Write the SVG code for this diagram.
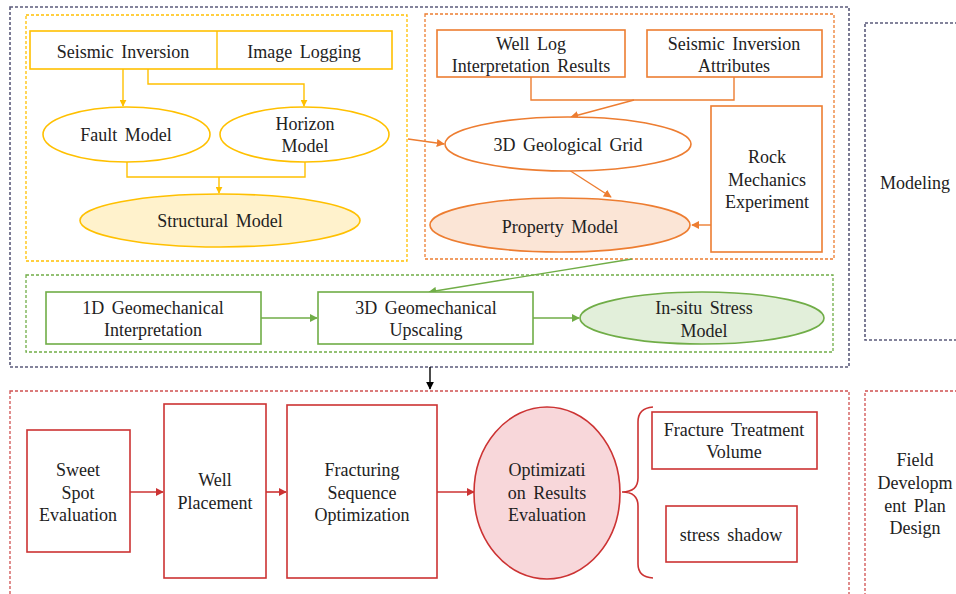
<svg xmlns="http://www.w3.org/2000/svg" width="956" height="594" viewBox="0 0 956 594">
<style>
text{font-family:'Liberation Serif','DejaVu Serif',serif;font-size:18px;fill:#222;text-anchor:middle;word-spacing:3px}
.gray{fill:none;stroke:#5b5b7b;stroke-width:1.6;stroke-dasharray:3 2}
.ydash{fill:none;stroke:#ffc000;stroke-width:1.3;stroke-dasharray:3 2}
.odash{fill:none;stroke:#ed7d31;stroke-width:1.3;stroke-dasharray:3 2}
.gdash{fill:none;stroke:#70ad47;stroke-width:1.3;stroke-dasharray:3 2}
.rdash{fill:none;stroke:#d05050;stroke-width:1.3;stroke-dasharray:3 2}
.y{fill:#fff;stroke:#ffc000;stroke-width:1.6}
.o{fill:#fff;stroke:#ed7d31;stroke-width:1.6}
.g{fill:#fff;stroke:#70ad47;stroke-width:1.6}
.r{fill:#fff;stroke:#cc3333;stroke-width:1.6}
.yl{fill:none;stroke:#ffc000;stroke-width:1.4}
.ol{fill:none;stroke:#ed7d31;stroke-width:1.4}
.gl{fill:none;stroke:#70ad47;stroke-width:1.4}
.rl{fill:none;stroke:#cc3333;stroke-width:1.6}
.kl{fill:none;stroke:#000;stroke-width:1.4}
</style>
<defs>
<marker id="ay" viewBox="0 0 10 10" refX="9" refY="5" markerWidth="7" markerHeight="7" orient="auto" markerUnits="userSpaceOnUse"><path d="M0,0L10,5L0,10z" fill="#ffc000"/></marker>
<marker id="ao" viewBox="0 0 10 10" refX="9" refY="5" markerWidth="8" markerHeight="8" orient="auto" markerUnits="userSpaceOnUse"><path d="M0,0L10,5L0,10z" fill="#ed7d31"/></marker>
<marker id="ag" viewBox="0 0 10 10" refX="9" refY="5" markerWidth="8" markerHeight="8" orient="auto" markerUnits="userSpaceOnUse"><path d="M0,0L10,5L0,10z" fill="#70ad47"/></marker>
<marker id="ar" viewBox="0 0 10 10" refX="9" refY="5" markerWidth="8" markerHeight="8" orient="auto" markerUnits="userSpaceOnUse"><path d="M0,0L10,5L0,10z" fill="#cc3333"/></marker>
<marker id="ak" viewBox="0 0 10 10" refX="9" refY="5" markerWidth="8" markerHeight="8" orient="auto" markerUnits="userSpaceOnUse"><path d="M0,0L10,5L0,10z" fill="#000"/></marker>
</defs>
<rect width="956" height="594" fill="#fff"/>

<g id="containers">
<rect class="gray" x="10" y="7" width="839" height="360"/>
<rect class="gray" x="865" y="23" width="100" height="317"/>
<rect class="ydash" x="26" y="15" width="381" height="246"/>
<rect class="odash" x="425" y="14" width="409" height="245"/>
<rect class="gdash" x="26" y="275" width="807" height="77"/>
<rect class="rdash" x="10" y="391" width="839" height="220"/>
<rect class="rdash" x="865" y="391" width="100" height="220"/>
</g>

<g id="connectors">
<path class="yl" d="M123,69V106" marker-end="url(#ay)"/>
<path class="yl" d="M148,69V84H304V106" marker-end="url(#ay)"/>
<path class="yl" d="M127,162V177H305V162M219,177V193" marker-end="url(#ay)"/>
<path class="ol" d="M531,77V100H734V77"/>
<path class="ol" d="M634,100L571,117" marker-end="url(#ao)"/>
<path class="ol" d="M408,139L444,144" marker-end="url(#ao)"/>
<path class="ol" d="M569,170L611,197" marker-end="url(#ao)"/>
<path class="ol" d="M711,225H692" marker-end="url(#ao)"/>
<path class="gl" d="M632,259L429,292" marker-end="url(#ag)"/>
<path class="gl" d="M261,318H317" marker-end="url(#ag)"/>
<path class="gl" d="M533,318H579" marker-end="url(#ag)"/>
<path class="kl" d="M430,367V389" marker-end="url(#ak)"/>
<path class="rl" d="M130,492H163" marker-end="url(#ar)"/>
<path class="rl" d="M266,492H286" marker-end="url(#ar)"/>
<path class="rl" d="M437,492H474" marker-end="url(#ar)"/>
<path class="rl" d="M653,407Q638,408 638,422V478Q638,492 622,492Q638,492 638,506V564Q638,577 653,578"/>
</g>

<g id="seismic-image"><rect class="y" x="30" y="31" width="362" height="38"/><line class="yl" x1="217" y1="31" x2="217" y2="69"/>
<text x="123" y="58">Seismic Inversion</text><text x="304" y="58">Image Logging</text></g>
<g id="fault"><ellipse class="y" cx="126.5" cy="134.5" rx="83.5" ry="27.5"/><text x="126" y="141">Fault Model</text></g>
<g id="horizon"><ellipse class="y" cx="304.5" cy="134.5" rx="84.5" ry="27.5"/><text x="305" y="130">Horizon</text><text x="305" y="152">Model</text></g>
<g id="structural"><ellipse cx="220" cy="220.5" rx="140" ry="26.5" fill="#fff2cc" stroke="#ffc000" stroke-width="1.6"/><text x="220" y="227">Structural Model</text></g>

<g id="welllog"><rect class="o" x="437" y="30" width="188" height="47"/><text x="531" y="50">Well Log</text><text x="531" y="72">Interpretation Results</text></g>
<g id="siattr"><rect class="o" x="647" y="30" width="175" height="47"/><text x="734" y="50">Seismic Inversion</text><text x="734" y="72">Attributes</text></g>
<g id="grid"><ellipse class="o" cx="568" cy="144" rx="123" ry="27"/><text x="568" y="151">3D Geological Grid</text></g>
<g id="property"><ellipse cx="560" cy="225" rx="130" ry="27" fill="#fbe5d6" stroke="#ed7d31" stroke-width="1.6"/><text x="560" y="233">Property Model</text></g>
<g id="rock"><rect class="o" x="711" y="106" width="111" height="146"/><text x="767" y="163">Rock</text><text x="767" y="186">Mechanics</text><text x="767" y="208">Experiment</text></g>

<g id="geo1d"><rect class="g" x="46" y="292" width="215" height="52"/><text x="153" y="314">1D Geomechanical</text><text x="153" y="336">Interpretation</text></g>
<g id="geo3d"><rect class="g" x="318" y="292" width="215" height="52"/><text x="426" y="314">3D Geomechanical</text><text x="426" y="336">Upscaling</text></g>
<g id="insitu"><ellipse cx="702" cy="318" rx="122" ry="26" fill="#e2efda" stroke="#70ad47" stroke-width="1.6"/><text x="704" y="314">In-situ Stress</text><text x="704" y="337">Model</text></g>

<g id="modeling-label"><text x="915" y="189">Modeling</text></g>
<g id="field-label"><text x="915" y="466">Field</text><text x="915" y="489">Developm</text><text x="915" y="512">ent Plan</text><text x="915" y="534">Design</text></g>

<g id="sweet"><rect class="r" x="27" y="430" width="103" height="122"/><text x="78" y="476">Sweet</text><text x="78" y="499">Spot</text><text x="78" y="521">Evaluation</text></g>
<g id="well"><rect class="r" x="164" y="404" width="102" height="174"/><text x="215" y="486">Well</text><text x="215" y="509">Placement</text></g>
<g id="fracseq"><rect class="r" x="287" y="405" width="150" height="173"/><text x="362" y="476">Fracturing</text><text x="362" y="499">Sequence</text><text x="362" y="521">Optimization</text></g>
<g id="optim"><ellipse cx="547" cy="493" rx="73" ry="86" fill="#f8d7da" stroke="#cc3333" stroke-width="1.6"/><text x="547" y="476">Optimizati</text><text x="547" y="499">on Results</text><text x="547" y="521">Evaluation</text></g>
<g id="fracvol"><rect class="r" x="652" y="412" width="165" height="57"/><text x="734" y="436">Fracture Treatment</text><text x="734" y="458">Volume</text></g>
<g id="shadow"><rect class="r" x="666" y="506" width="131" height="56"/><text x="731" y="541">stress shadow</text></g>
</svg>
